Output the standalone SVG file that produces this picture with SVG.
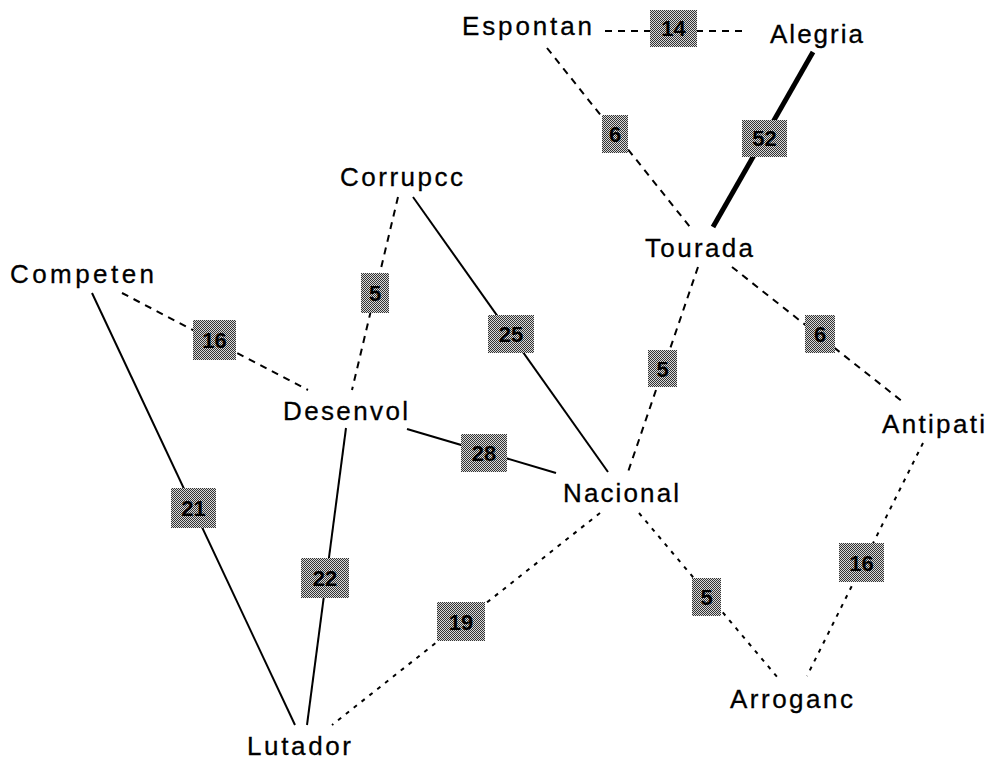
<svg xmlns="http://www.w3.org/2000/svg" width="990" height="761" viewBox="0 0 990 761">
<style>
.node text{font-family:"Liberation Sans",Arial,sans-serif;font-size:26px;fill:#000;stroke:#000;stroke-width:0.3}
.e{stroke:#000;stroke-width:2;fill:none;stroke-linecap:butt}
.dash{stroke-dasharray:7 6}
.dot{stroke-dasharray:4 6}
.thick{stroke-width:5}
.lb rect{fill:url(#dither)}
.lb text{font-family:"Liberation Sans",Arial,sans-serif;font-size:22px;font-weight:bold;fill:#000;text-anchor:middle}
</style>
<defs>
<pattern id="dither" patternUnits="userSpaceOnUse" width="2" height="2">
<rect width="2" height="2" fill="#d8d8d8"/>
<rect width="1" height="1" fill="#333"/>
<rect x="1" y="1" width="1" height="1" fill="#333"/>
</pattern>
</defs>
<rect width="990" height="761" fill="#fff"/>
<g id="connectors">
<line class="e dash" x1="605" y1="31" x2="748" y2="31"/>
<line class="e dash" x1="547" y1="48" x2="690" y2="227"/>
<line class="e thick" x1="813" y1="52" x2="713" y2="227"/>
<line class="e dash" x1="398" y1="197" x2="352" y2="390"/>
<line class="e" x1="413" y1="197" x2="608" y2="472"/>
<line class="e dash" x1="122" y1="293" x2="308" y2="390"/>
<line class="e" x1="92" y1="293" x2="295" y2="725"/>
<line class="e" x1="346" y1="428" x2="307" y2="725"/>
<line class="e" x1="407" y1="429" x2="556" y2="473"/>
<line class="e dash" x1="698" y1="267" x2="628" y2="472"/>
<line class="e dash" x1="732" y1="267" x2="903" y2="402"/>
<line class="e dot" x1="923" y1="443" x2="807" y2="676"/>
<line class="e dot" x1="639" y1="513" x2="778" y2="678"/>
<line class="e dot" x1="600" y1="513" x2="332" y2="725"/>
<g class="lb"><rect x="650" y="10" width="47" height="37"/><text x="673.5" y="36">14</text></g>
<g class="lb"><rect x="602" y="115" width="26" height="38"/><text x="615" y="142">6</text></g>
<g class="lb"><rect x="742" y="120" width="45" height="37"/><text x="764.5" y="146">52</text></g>
<g class="lb"><rect x="361" y="273" width="28" height="40"/><text x="375" y="301">5</text></g>
<g class="lb"><rect x="488" y="315" width="46" height="38"/><text x="511" y="342">25</text></g>
<g class="lb"><rect x="193" y="320" width="43" height="40"/><text x="214.5" y="348">16</text></g>
<g class="lb"><rect x="171" y="488" width="45" height="40"/><text x="193.5" y="516">21</text></g>
<g class="lb"><rect x="301" y="558" width="48" height="40"/><text x="325" y="586">22</text></g>
<g class="lb"><rect x="461" y="434" width="46" height="38"/><text x="484" y="461">28</text></g>
<g class="lb"><rect x="648" y="350" width="29" height="37"/><text x="662.5" y="377">5</text></g>
<g class="lb"><rect x="805" y="315" width="30" height="38"/><text x="820" y="342">6</text></g>
<g class="lb"><rect x="839" y="543" width="45" height="39"/><text x="861.5" y="571">16</text></g>
<g class="lb"><rect x="692" y="578" width="29" height="38"/><text x="706.5" y="605">5</text></g>
<g class="lb"><rect x="437" y="602" width="48" height="39"/><text x="461" y="630">19</text></g>
</g>
<g id="Espontan" class="node"><text x="462" y="35" textLength="130" lengthAdjust="spacing">Espontan</text></g>
<g id="Alegria" class="node"><text x="770" y="43" textLength="93" lengthAdjust="spacing">Alegria</text></g>
<g id="Corrupcc" class="node"><text x="340" y="186" textLength="123" lengthAdjust="spacing">Corrupcc</text></g>
<g id="Tourada" class="node"><text x="645" y="257" textLength="108" lengthAdjust="spacing">Tourada</text></g>
<g id="Competen" class="node"><text x="10" y="283" textLength="144" lengthAdjust="spacing">Competen</text></g>
<g id="Desenvol" class="node"><text x="283" y="420" textLength="125" lengthAdjust="spacing">Desenvol</text></g>
<g id="Antipati" class="node"><text x="882" y="433" textLength="103" lengthAdjust="spacing">Antipati</text></g>
<g id="Nacional" class="node"><text x="563" y="502" textLength="116" lengthAdjust="spacing">Nacional</text></g>
<g id="Arroganc" class="node"><text x="730" y="708" textLength="123" lengthAdjust="spacing">Arroganc</text></g>
<g id="Lutador" class="node"><text x="247" y="755" textLength="104" lengthAdjust="spacing">Lutador</text></g>
</svg>
